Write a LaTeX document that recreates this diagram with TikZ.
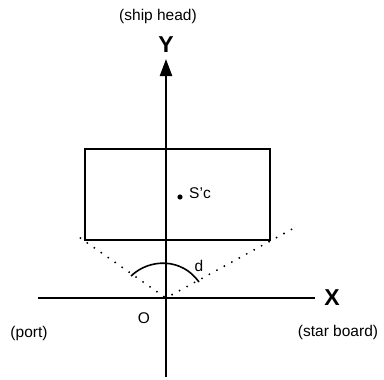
\documentclass[tikz,border=0pt]{standalone}
\usepackage{fontspec}
\setmainfont{Liberation Sans}
\usetikzlibrary{arrows.meta,positioning,calc}
\tikzset{axis/.style={line width=2.2pt},hullbox/.style={draw,line width=1.5pt,minimum width=185pt,minimum height=91pt,inner sep=0pt},
 sight/.style={line width=2.1pt,line cap=round,dash pattern=on 0pt off 8.5pt},
 lab/.style={font=\fontsize{15.5}{18}\selectfont,inner sep=0pt},axl/.style={font=\fontsize{23}{27}\selectfont\bfseries,inner sep=0pt}}

\begin{document}
\begin{tikzpicture}[x=1pt,y=-1pt]
\useasboundingbox (0,0) rectangle (384,380);
\coordinate (O) at (166,298);
\coordinate (yb) at (166,377);\coordinate (yt) at (166,59);
\coordinate (xl) at (38,298);\coordinate (xr) at (315,298);
\node[hullbox](hull) at (177.5,194.5){};
\draw[axis](xl)--(xr);
\draw[axis,-{Triangle[width=12pt,length=17pt]}](yb)--(yt);
\draw[sight]($(O)!2.5pt!(hull.south west)$)--($(O)!1.09!(hull.south west)$);
\draw[sight]($(O)!7pt!(hull.south east)$)--($(O)!1.2!(hull.south east)$);
\draw[line width=1.6pt](131,276) .. controls (150,258) and (182,258) .. (199,282);
\fill (180,197) circle (2.6pt);
\node[lab](sc) at (200,193){S'c};
\node[lab](d) at (199,266){d};
\node[lab](o) at (144,318){O};
\node[axl](xlab) at (332,298){X};
\node[axl](ylab) at (166,45){Y};
\node[lab](head) at (158,16){(ship head)};
\node[lab](port) at (29,333){(port)};
\node[lab](star) at (338,332){(star board)};
\end{tikzpicture}
\end{document}
